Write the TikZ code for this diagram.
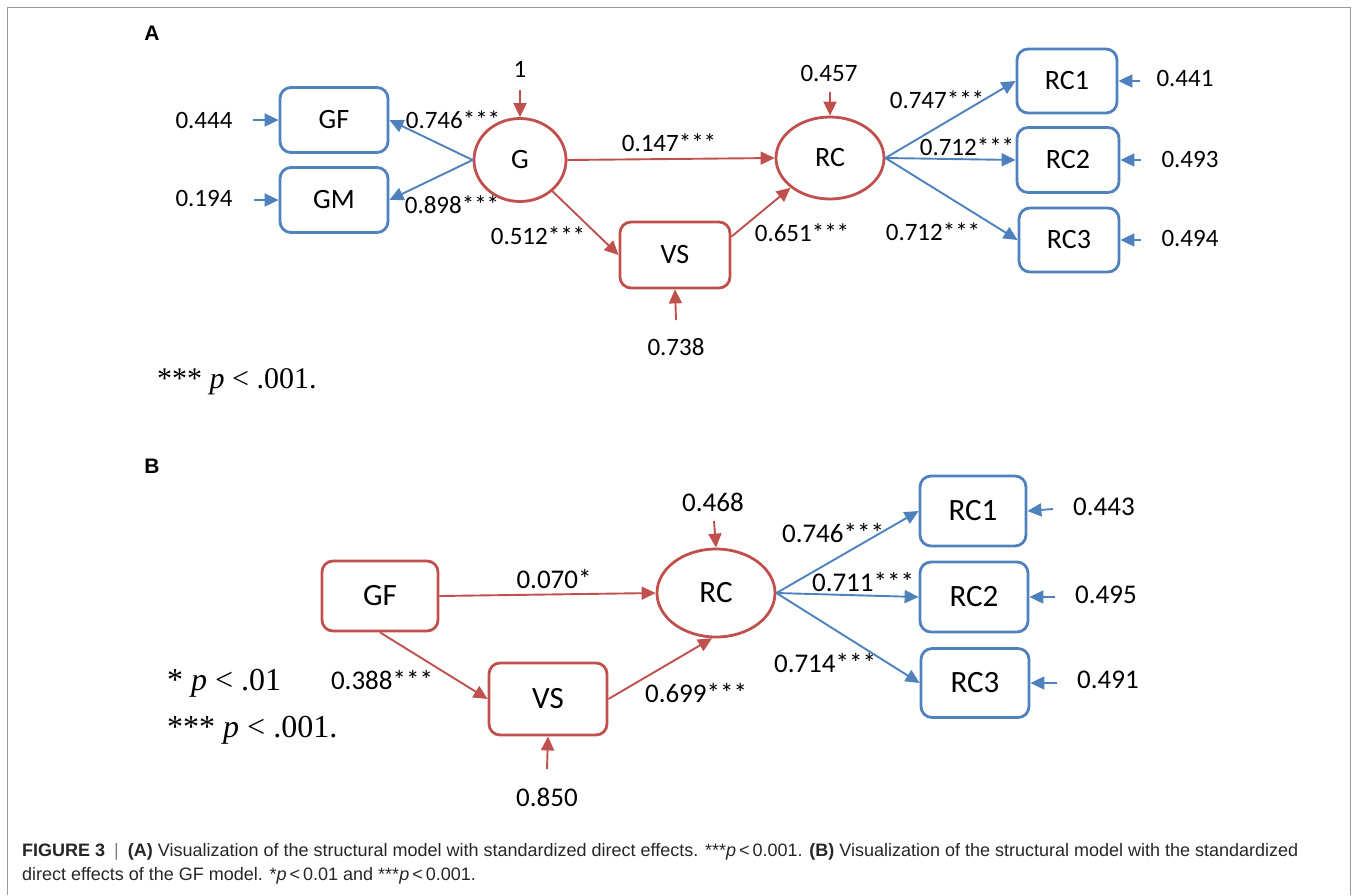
\documentclass[tikz,border=0pt]{standalone}
\usepackage{fontspec}
\setmainfont{Carlito}
\newfontfamily\timesfont{Liberation Serif}
\newfontfamily\capfont{Liberation Sans}
\usetikzlibrary{arrows.meta,shapes.geometric,positioning}
\definecolor{semred}{RGB}{192,80,77}
\definecolor{semblue}{RGB}{79,129,189}
\tikzset{
  obsbox/.style={draw=#1, rounded corners=11pt, line width=2.8pt, inner sep=0pt},
  latent/.style={draw=semred, ellipse, line width=2.8pt, inner sep=0pt},
  rpath/.style={draw=semred, line width=1.9pt, -{Triangle[length=14pt,width=13pt]}},
  bpath/.style={draw=semblue, line width=1.9pt, -{Triangle[length=14pt,width=13pt]}},
  coef/.style={inner sep=0pt, font=\fontsize{#1}{#1}\selectfont},
  panel/.style={inner sep=0pt, font=\capfont\bfseries\fontsize{21}{21}\selectfont},
  note/.style={inner sep=0pt, anchor=west, font=\timesfont\fontsize{#1}{#1}\selectfont},
}
\begin{document}
\begin{tikzpicture}[x=1pt, y=-1pt]
\useasboundingbox (0,0) rectangle (1356,895);
\draw[black!40, line width=1pt] (7,895) -- (7,7) -- (1350,7) -- (1350,895);

% panel A
\node[panel] (labA) at (152,33) {A};
\begin{scope}[every node/.append style={font=\fontsize{28}{28}\selectfont}]
\node[obsbox=semblue, minimum width=108pt, minimum height=65pt] (aGF) at (334,120) {GF};
\node[obsbox=semblue, minimum width=108pt, minimum height=65pt] (aGM) at (334,200) {GM};
\node[latent, minimum width=92pt, minimum height=83pt] (aG) at (520,160) {G};
\node[obsbox=semred, minimum width=110pt, minimum height=66pt] (aVS) at (675,255) {VS};
\node[latent, minimum width=108pt, minimum height=82pt] (aRC) at (830,158) {RC};
\node[obsbox=semblue, minimum width=100pt, minimum height=64pt] (aRC1) at (1067,81) {RC1};
\node[obsbox=semblue, minimum width=102pt, minimum height=65pt] (aRC2) at (1068,160) {RC2};
\node[obsbox=semblue, minimum width=100pt, minimum height=64pt] (aRC3) at (1069,240) {RC3};
\end{scope}

\draw[bpath] (aG.west) -- (aGF.east);
\draw[bpath] (aG.west) -- (aGM.east);
\draw[rpath] (aG.east) -- (aRC.west);
\draw[rpath] (aG) -- (aVS.west);
\draw[rpath] (aVS.18) -- (aRC.217);
\draw[bpath] (aRC.east) -- (aRC1.west);
\draw[bpath] (aRC.east) -- (aRC2.west);
\draw[bpath] (aRC.east) -- (aRC3.west);

\node[coef=25] (caGF) at (453,120) {0.746***};
\node[coef=25] (caGM) at (452,205) {0.898***};
\node[coef=25] (caVS) at (538,236) {0.512***};
\node[coef=25] (caRC) at (669,143) {0.147***};
\node[coef=25] (caVR) at (802,233) {0.651***};
\node[coef=25] (caR1) at (937,100) {0.747***};
\node[coef=25] (caR2) at (967,147) {0.712***};
\node[coef=25] (caR3) at (933,232) {0.712***};

% residuals A
\node[coef=25] (eaGF) at (204,120) {0.444};
\node[coef=25] (eaGM) at (204,198) {0.194};
\node[coef=25] (eaG) at (520,69) {1};
\node[coef=25] (eaRC) at (829,73) {0.457};
\node[coef=25] (eaVS) at (676,347) {0.738};
\node[coef=25] (eaR1) at (1185,78) {0.441};
\node[coef=25] (eaR2) at (1190,159) {0.493};
\node[coef=25] (eaR3) at (1190,238) {0.494};
\coordinate (saGF) at (253,120);
\coordinate (saGM) at (254,200);
\coordinate (saG) at (520,90);
\coordinate (saRC) at (830,92);
\coordinate (saVS) at (676,320);
\coordinate (saR1) at (1140,81);
\coordinate (saR2) at (1141,160);
\coordinate (saR3) at (1141,240);
\draw[bpath] (saGF) -- (aGF.west);
\draw[bpath] (saGM) -- (aGM.west);
\draw[rpath] (saG) -- (aG.north);
\draw[rpath] (saRC) -- (aRC.north);
\draw[rpath] (saVS) -- (aVS.south);
\draw[bpath] (saR1) -- (aRC1.east);
\draw[bpath] (saR2) -- (aRC2.east);
\draw[bpath] (saR3) -- (aRC3.east);

\node[note=30] (noteA) at (157,382) {*** \textit{p} < .001.};

% panel B
\node[panel] (labB) at (152,466) {B};
\begin{scope}[every node/.append style={font=\fontsize{31}{31}\selectfont}]
\node[obsbox=semred, minimum width=116pt, minimum height=70pt] (bGF) at (380,596) {GF};
\node[obsbox=semred, minimum width=118pt, minimum height=72pt] (bVS) at (548,699) {VS};
\node[latent, minimum width=118pt, minimum height=88pt] (bRC) at (716,593) {RC};
\node[obsbox=semblue, minimum width=106pt, minimum height=70pt] (bRC1) at (973,511) {RC1};
\node[obsbox=semblue, minimum width=108pt, minimum height=70pt] (bRC2) at (974,597) {RC2};
\node[obsbox=semblue, minimum width=108pt, minimum height=69pt] (bRC3) at (975,683) {RC3};
\end{scope}

\draw[rpath] (bGF.east) -- (bRC.west);
\draw[rpath] (bGF.south) -- (bVS.west);
\draw[rpath] (bVS.east) -- (bRC.265);
\draw[bpath] (bRC.east) -- (bRC1.west);
\draw[bpath] (bRC.east) -- (bRC2.west);
\draw[bpath] (bRC.east) -- (bRC3.west);

\node[coef=27] (cbRC) at (554,579) {0.070*};
\node[coef=27] (cbVS) at (382,680) {0.388***};
\node[coef=27] (cbVR) at (696,693) {0.699***};
\node[coef=27] (cbR1) at (833,533) {0.746***};
\node[coef=27] (cbR2) at (863,582) {0.711***};
\node[coef=27] (cbR3) at (825,663) {0.714***};

% residuals B
\node[coef=27] (ebRC) at (713,502) {0.468};
\node[coef=27] (ebVS) at (547,797) {0.850};
\node[coef=27] (ebR1) at (1104,507) {0.443};
\node[coef=27] (ebR2) at (1106,595) {0.495};
\node[coef=27] (ebR3) at (1108,680) {0.491};
\coordinate (sbRC) at (714,521);
\coordinate (sbVS) at (547,769);
\coordinate (sbR1) at (1053,509);
\coordinate (sbR2) at (1055,597);
\coordinate (sbR3) at (1057,683);
\draw[rpath] (sbRC) -- (bRC.north);
\draw[rpath] (sbVS) -- (bVS.south);
\draw[bpath] (sbR1) -- (bRC1.east);
\draw[bpath] (sbR2) -- (bRC2.east);
\draw[bpath] (sbR3) -- (bRC3.east);

\node[note=32] (noteB1) at (167,683) {* \textit{p} < .01};
\node[note=32] (noteB2) at (167,730) {*** \textit{p} < .001.};

% caption
\begin{scope}[every node/.style={inner sep=0pt, anchor=west, text=black!85, font=\capfont\fontsize{18}{18}\selectfont}]
\node (cap1) at (22,852) {\textbf{FIGURE 3}\enspace\textcolor{black!50}{|}\enspace\textbf{(A)} Visualization of the structural model with standardized direct effects. ***\textit{p}\,<\,0.001. \textbf{(B)} Visualization of the structural model with the standardized};
\node (cap2) at (22,876) {direct effects of the GF model. *\textit{p}\,<\,0.01 and ***\textit{p}\,<\,0.001.};
\end{scope}
\end{tikzpicture}
\end{document}
